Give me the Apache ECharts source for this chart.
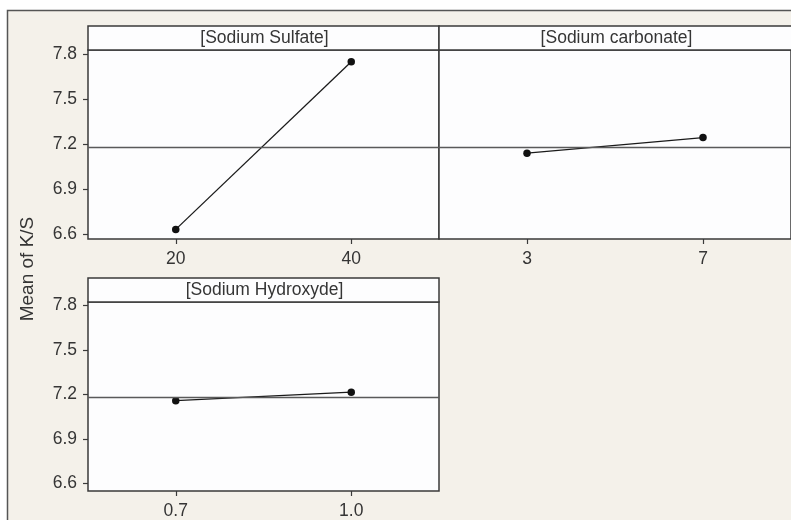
<!DOCTYPE html>
<html>
<head>
<meta charset="utf-8">
<script src="https://cdn.jsdelivr.net/npm/echarts@6/dist/echarts.min.js"></script>
<style>
html,body{margin:0;padding:0;background:#ffffff;}
#chart{width:791px;height:520px;}
</style>
</head>
<body>
<div id="chart"></div>
<script>
// ---- data ----
const panelTitles = ['[Sodium Sulfate]', '[Sodium carbonate]', '[Sodium Hydroxyde]'];
const sulfateLevels = ['20', '40'];
const sulfateMeans = [6.633, 7.749];
const carbonateLevels = ['3', '7'];
const carbonateMeans = [7.14, 7.244];
const hydroxydeLevels = ['0.7', '1.0'];
const hydroxydeMeans = [7.158, 7.215];
const yTickValues = [6.6, 6.9, 7.2, 7.5, 7.8];
const grandMean = 7.185;
const yAxisTitle = 'Mean of K/S';

// ---- layout ----
const FONT = '"Liberation Sans", Arial, sans-serif';
const TXT = '#353535';
const BORDER = '#3a3a3a';
const FS = 17.5;
const panels = [
  {left: 88, top: 50, width: 351, height: 189, strip: 24, min: 6.569, max: 7.827, labels: true,
   cats: sulfateLevels, vals: sulfateMeans, title: panelTitles[0]},
  {left: 439, top: 50, width: 353, height: 189, strip: 24, min: 6.569, max: 7.827, labels: false,
   cats: carbonateLevels, vals: carbonateMeans, title: panelTitles[1]},
  {left: 88, top: 302, width: 351, height: 190, strip: 24, min: 6.55, max: 7.822, labels: true,
   cats: hydroxydeLevels, vals: hydroxydeMeans, title: panelTitles[2]}
];

const chart = echarts.init(document.getElementById('chart'), null, {renderer: 'canvas'});

const grid = panels.map(p => ({
  left: p.left, top: p.top, width: p.width, height: p.height,
  show: true, backgroundColor: '#fdfdfe', borderColor: BORDER, borderWidth: 1.5,
  containLabel: false
}));

const xAxis = panels.map((p, i) => ({
  type: 'category', gridIndex: i, data: p.cats, boundaryGap: true,
  axisLine: {show: false},
  axisTick: {show: true, alignWithLabel: true, inside: false, length: 5,
             lineStyle: {color: BORDER, width: 1.2}},
  axisLabel: {color: TXT, fontFamily: FONT, fontSize: FS, margin: 11},
  splitLine: {show: false}
}));

const yAxis = panels.map((p, i) => ({
  type: 'value', gridIndex: i, min: p.min, max: p.max,
  axisLine: {show: false},
  axisTick: {show: p.labels, length: 5, customValues: yTickValues,
             lineStyle: {color: BORDER, width: 1.2}},
  axisLabel: {show: p.labels, customValues: yTickValues, color: TXT, fontFamily: FONT,
              fontSize: FS, margin: 11, formatter: v => v.toFixed(1)},
  splitLine: {show: false}
}));

const series = panels.map((p, i) => ({
  type: 'line', xAxisIndex: i, yAxisIndex: i, data: p.vals,
  symbol: 'circle', symbolSize: 7.5,
  itemStyle: {color: '#111111'},
  lineStyle: {color: '#1a1a1a', width: 1.3},
  silent: true, animation: false,
  markLine: {
    silent: true, symbol: 'none', animation: false,
    lineStyle: {color: '#5a5a5a', width: 1.3, type: 'solid'},
    label: {show: false},
    data: [{yAxis: grandMean}]
  }
}));

const graphic = [
  {type: 'rect', z: -10, shape: {x: 7.5, y: 10.5, width: 800, height: 520},
   style: {fill: '#f4f1ea', stroke: '#555555', lineWidth: 1.5}}
];
panels.forEach(p => {
  graphic.push({type: 'rect', z: 5,
    shape: {x: p.left, y: p.top - p.strip, width: p.width, height: p.strip},
    style: {fill: '#fdfdfe', stroke: BORDER, lineWidth: 1.5}});
  graphic.push({type: 'text', z: 6, x: p.left + p.width / 2 + 1, y: p.top - p.strip / 2,
    style: {text: p.title, fill: TXT, font: FS + 'px ' + FONT, align: 'center', verticalAlign: 'middle'}});
});
graphic.push({type: 'text', z: 6, x: 28, y: 269, rotation: Math.PI / 2,
  style: {text: yAxisTitle, fill: TXT, font: '19px ' + FONT, align: 'center', verticalAlign: 'middle'}});

chart.setOption({
  backgroundColor: '#ffffff',
  animation: false,
  grid, xAxis, yAxis, series, graphic
});
</script>
</body>
</html>
